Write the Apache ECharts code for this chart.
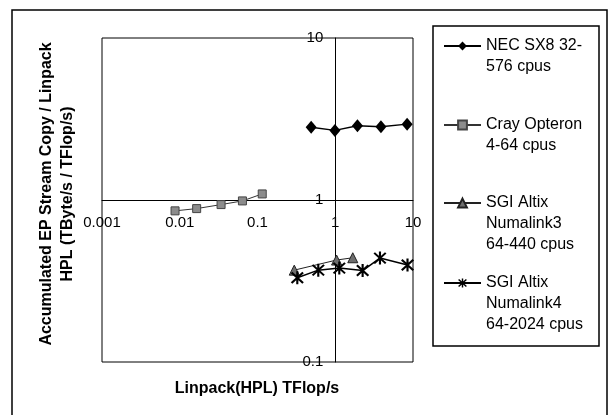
<!DOCTYPE html>
<html>
<head>
<meta charset="utf-8">
<script src="https://cdn.jsdelivr.net/npm/echarts@6/dist/echarts.min.js"></script>
<style>
html,body{margin:0;padding:0;background:#fff;}
#chart{width:611px;height:415px;}
</style>
</head>
<body>
<div id="chart"></div>
<script>
// ---- data ----
const seriesNames = ['NEC SX8 32-576 cpus', 'Cray Opteron 4-64 cpus', 'SGI Altix Numalink3 64-440 cpus', 'SGI Altix Numalink4 64-2024 cpus'];
const legendLabels = ['NEC SX8 32-\n576 cpus', 'Cray Opteron\n4-64 cpus', 'SGI Altix\nNumalink3\n64-440 cpus', 'SGI Altix\nNumalink4\n64-2024 cpus'];

const necX = [0.49, 0.99, 1.93, 3.87, 8.4];
const necY = [2.81, 2.69, 2.87, 2.83, 2.94];

const crayX = [0.0087, 0.0165, 0.034, 0.064, 0.115];
const crayY = [0.857, 0.885, 0.937, 0.987, 1.09];

const nl3X = [0.297, 1.04, 1.68];
const nl3Y = [0.369, 0.426, 0.440];

const nl4X = [0.325, 0.605, 1.127, 2.25, 3.76, 8.5];
const nl4Y = [0.331, 0.369, 0.380, 0.367, 0.438, 0.397];

const xTickLabels = ['0.001', '0.01', '0.1', '1', '10'];
const yTickLabels = ['0.1', '1', '10'];
const xTitle = 'Linpack(HPL) TFlop/s';
const yTitle = 'Accumulated EP Stream Copy / Linpack\nHPL (TByte/s / TFlop/s)';

// ---- build ----
const pairs = (xs, ys) => xs.map((x, i) => [x, ys[i]]);
const FONT = '"Liberation Sans", Arial, sans-serif';
const asterisk = 'path://M8.5,0H11.5V20H8.5Z M0.9,3.0L3.0,0.9L19.1,17.0L17.0,19.1Z M17.0,0.9L19.1,3.0L3.0,19.1L0.9,17.0Z';

const grid = {left: 102, top: 38, right: 198, bottom: 53};
const W = 611, H = 415;
const gw = W - grid.left - grid.right, gh = H - grid.top - grid.bottom;
// axes cross at (1,1): the x axis line sits at y=1 (half the height: 0.1..10),
// the y axis line sits at x=1 (3/4 of the width: 0.001..10)
const xAxisOffset = -gh / 2;
const yAxisOffset = -gw * 3 / 4;

function logLabel(list, minExp) {
  return function (v) {
    const e = Math.round(Math.log10(v));
    return list[e - minExp] !== undefined ? list[e - minExp] : '';
  };
}

const lh = 21;
const iconY = [46, 125, 203, 283];
const legends = seriesNames.map((n, i) => {
  const lines = legendLabels[i].split('\n').length;
  const padded = '\n'.repeat(lines - 1) + legendLabels[i];
  return {
    left: 443,
    top: iconY[i] - (2 * lines - 1) * lh / 2,
    orient: 'vertical',
    padding: 0,
    itemWidth: 37,
    itemHeight: 11,
    selectedMode: false,
    data: [n],
    formatter: () => padded,
    textStyle: {fontFamily: FONT, fontSize: 16, color: '#000', lineHeight: lh}
  };
});

const option = {
  animation: false,
  backgroundColor: '#fff',
  grid: Object.assign({show: true, borderColor: '#000', borderWidth: 1}, grid),
  legend: legends,
  xAxis: {
    type: 'log', logBase: 10, min: 0.001, max: 10,
    offset: xAxisOffset,
    axisLine: {show: true, onZero: false, lineStyle: {color: '#000', width: 1}},
    axisTick: {show: false},
    splitLine: {show: false},
    axisLabel: {color: '#000', fontSize: 15, fontFamily: FONT, margin: 15, formatter: logLabel(xTickLabels, -3)}
  },
  yAxis: {
    type: 'log', logBase: 10, min: 0.1, max: 10,
    offset: yAxisOffset,
    axisLine: {show: true, onZero: false, lineStyle: {color: '#000', width: 1}},
    axisTick: {show: false},
    splitLine: {show: false},
    axisLabel: {color: '#000', fontSize: 15, fontFamily: FONT, margin: 12, formatter: logLabel(yTickLabels, -1)}
  },
  series: [
    {
      name: seriesNames[0], type: 'line', data: pairs(necX, necY),
      symbol: 'diamond', symbolSize: [11, 13],
      itemStyle: {color: '#000'}, lineStyle: {color: '#000', width: 1.5}
    },
    {
      name: seriesNames[1], type: 'line', data: pairs(crayX, crayY),
      symbol: 'rect', symbolSize: 8,
      itemStyle: {color: '#8c8c8c', borderColor: '#444', borderWidth: 1}, lineStyle: {color: '#333', width: 1}
    },
    {
      name: seriesNames[2], type: 'line', data: pairs(nl3X, nl3Y),
      symbol: 'triangle', symbolSize: 10,
      itemStyle: {color: '#6e6e6e', borderColor: '#222', borderWidth: 1}, lineStyle: {color: '#222', width: 1}
    },
    {
      name: seriesNames[3], type: 'line', data: pairs(nl4X, nl4Y),
      symbol: asterisk, symbolSize: 13,
      itemStyle: {color: '#000'}, lineStyle: {color: '#000', width: 1.5}
    }
  ],
  graphic: [
    {type: 'rect', shape: {x: 12, y: 10, width: 595, height: 430}, style: {fill: 'none', stroke: '#000', lineWidth: 1.5}, silent: true},
    {type: 'rect', shape: {x: 433, y: 26, width: 166, height: 320}, style: {fill: 'none', stroke: '#000', lineWidth: 1.5}, silent: true},
    {type: 'text', x: 257, y: 389, style: {text: xTitle, font: 'bold 16px ' + FONT, fill: '#000', align: 'center', verticalAlign: 'middle'}},
    {type: 'text', x: 57, y: 194, rotation: Math.PI / 2, style: {text: yTitle, font: 'bold 16px ' + FONT, fill: '#000', align: 'center', verticalAlign: 'middle', lineHeight: 21.5}}
  ]
};

const chart = echarts.init(document.getElementById('chart'), null, {renderer: 'canvas'});
chart.setOption(option);
</script>
</body>
</html>
